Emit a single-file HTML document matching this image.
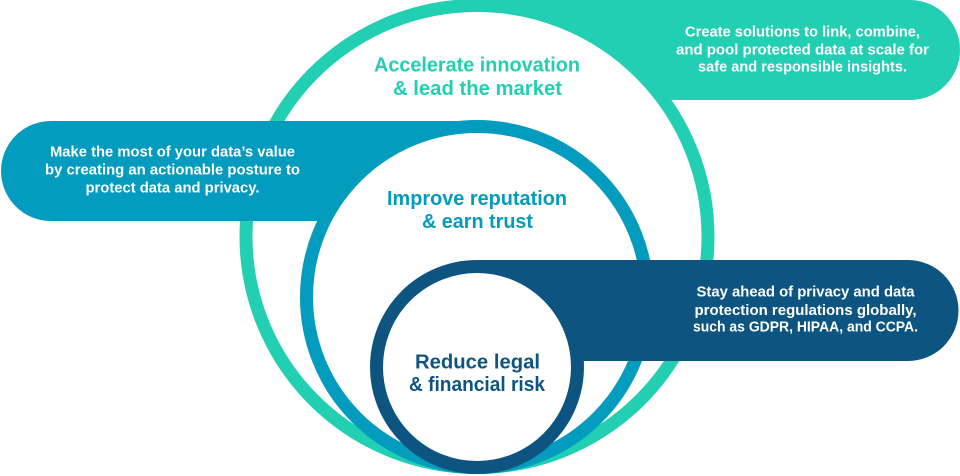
<!DOCTYPE html>
<html>
<head>
<meta charset="utf-8">
<style>
  html, body { margin: 0; padding: 0; background: #ffffff; }
  body { width: 960px; height: 476px; overflow: hidden; }
  svg { display: block; }
  text { font-family: "Liberation Sans", sans-serif; font-weight: bold; }
</style>
</head>
<body>
<svg width="960" height="476" viewBox="0 0 960 476" xmlns="http://www.w3.org/2000/svg">
  <!-- Teal box + circle -->
  <path d="M477,0 H910 A50,50 0 0 1 910,100 H477 Z" fill="#23CFB2"/>
  <circle cx="477" cy="236.5" r="231" fill="#ffffff" stroke="#23CFB2" stroke-width="13"/>

  <!-- Blue box + circle -->
  <path d="M477,121 H51 A50,50 0 0 0 51,221 H477 Z" fill="#039BBE"/>
  <circle cx="477" cy="297" r="170.5" fill="#ffffff" stroke="#039BBE" stroke-width="13"/>

  <!-- Navy box + circle -->
  <path d="M477,260 H908 A50.5,50.5 0 0 1 908,361 H477 Z" fill="#0D5580"/>
  <circle cx="477" cy="367" r="100.5" fill="#ffffff" stroke="#0D5580" stroke-width="13"/>

  <!-- Teal box text -->
  <g fill="#ffffff" font-size="14.5" text-anchor="middle">
    <text x="802.5" y="36.7" textLength="235" lengthAdjust="spacingAndGlyphs">Create solutions to link, combine,</text>
    <text x="802.5" y="54.3" textLength="253" lengthAdjust="spacingAndGlyphs">and pool protected data at scale for</text>
    <text x="802.5" y="71.7" textLength="209" lengthAdjust="spacingAndGlyphs">safe and responsible insights.</text>
  </g>

  <!-- Blue box text -->
  <g fill="#ffffff" font-size="14.5" text-anchor="middle">
    <text x="172.5" y="156.7" textLength="245" lengthAdjust="spacingAndGlyphs">Make the most of your data’s value</text>
    <text x="172.5" y="174.3" textLength="255" lengthAdjust="spacingAndGlyphs">by creating an actionable posture to</text>
    <text x="172.5" y="192.3" textLength="174" lengthAdjust="spacingAndGlyphs">protect data and privacy.</text>
  </g>

  <!-- Navy box text -->
  <g fill="#ffffff" font-size="14.5" text-anchor="middle">
    <text x="805.5" y="296.7" textLength="218" lengthAdjust="spacingAndGlyphs">Stay ahead of privacy and data</text>
    <text x="805.5" y="315" textLength="222" lengthAdjust="spacingAndGlyphs">protection regulations globally,</text>
    <text x="805.5" y="331.7" textLength="225" lengthAdjust="spacingAndGlyphs">such as GDPR, HIPAA, and CCPA.</text>
  </g>

  <!-- Headings -->
  <g font-size="20" text-anchor="middle">
    <text x="477" y="71.7" fill="#23CFB2" textLength="206" lengthAdjust="spacingAndGlyphs">Accelerate innovation</text>
    <text x="477.5" y="95" fill="#23CFB2" textLength="169" lengthAdjust="spacingAndGlyphs">&amp; lead the market</text>
    <text x="477" y="205" fill="#039BBE" textLength="180" lengthAdjust="spacingAndGlyphs">Improve reputation</text>
    <text x="477.5" y="228" fill="#039BBE" textLength="111" lengthAdjust="spacingAndGlyphs">&amp; earn trust</text>
    <text x="477.5" y="368.7" fill="#0D5580" textLength="125" lengthAdjust="spacingAndGlyphs">Reduce legal</text>
    <text x="477" y="391" fill="#0D5580" textLength="136" lengthAdjust="spacingAndGlyphs">&amp; financial risk</text>
  </g>
</svg>
</body>
</html>
